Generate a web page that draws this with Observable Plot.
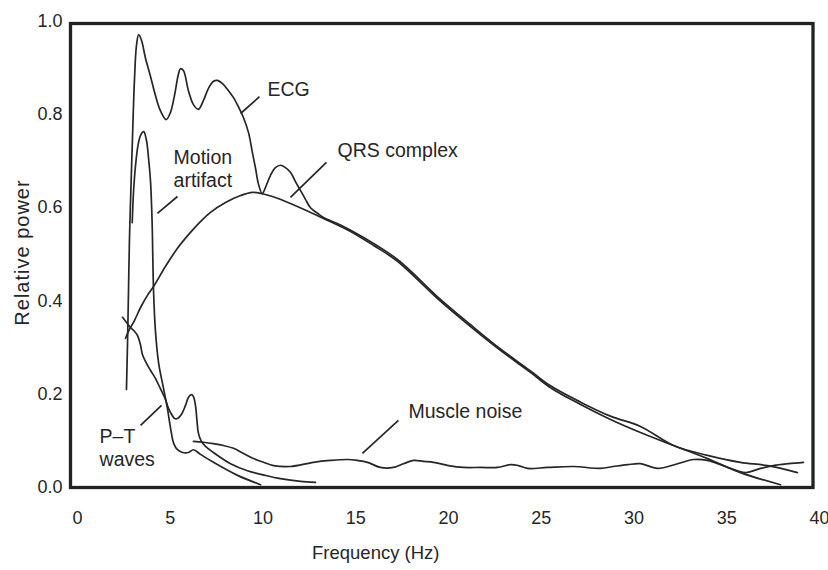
<!DOCTYPE html>
<html><head><meta charset="utf-8">
<script src="https://cdn.jsdelivr.net/npm/d3@7"></script>
<script src="https://cdn.jsdelivr.net/npm/@observablehq/plot@0.6"></script>
<style>body{margin:0;background:#fff;} #chart{width:828px;height:570px;}</style>
</head><body><div id="chart"></div>
<script>
// Tick values
const xTicks = [0, 5, 10, 15, 20, 25, 30, 35, 40];
const yTicks = [0, 0.2, 0.4, 0.6, 0.8, 1.0];

// ECG spectrum
const ecgFreq = [2.64,2.70,2.75,2.80,2.86,2.96,3.07,3.18,3.30,3.45,3.67,3.94,4.20,4.47,4.78,5.01,5.23,5.44,5.55,5.71,5.98,6.25,6.52,6.79,7.06,7.33,7.55,7.82,8.14,8.41,8.68,8.95,9.22,9.43,9.60,9.76,9.96,10.13,10.40,10.67,10.94,11.21,11.48,11.75,12.02,12.29,12.56,12.94,13.26,14.18,15.42,17.25,19.41,21.19,22.80,24.42,25.50,27.12,28.73,30.35,32.13,33.96,35.74,37.20,38.81];
const ecgPower = [0.210,0.315,0.422,0.530,0.615,0.744,0.873,0.948,0.971,0.959,0.920,0.881,0.841,0.808,0.789,0.804,0.841,0.886,0.898,0.894,0.851,0.821,0.811,0.830,0.856,0.871,0.873,0.866,0.851,0.836,0.816,0.793,0.761,0.718,0.684,0.650,0.630,0.643,0.669,0.686,0.691,0.686,0.676,0.656,0.637,0.618,0.600,0.588,0.579,0.563,0.536,0.489,0.409,0.349,0.297,0.250,0.218,0.183,0.153,0.131,0.090,0.069,0.054,0.047,0.032];

// QRS complex spectrum
const qrsFreq = [2.59,2.75,3.07,3.40,3.77,4.10,4.74,5.39,6.09,6.63,7.17,7.98,8.79,9.43,9.97,10.51,11.48,13.26,14.72,15.96,17.25,19.41,21.19,22.80,24.42,25.50,27.12,28.73,30.35,32.13,33.96,35.74,37.90];
const qrsPower = [0.320,0.335,0.358,0.386,0.412,0.431,0.474,0.513,0.547,0.570,0.590,0.611,0.626,0.633,0.630,0.624,0.609,0.577,0.549,0.519,0.485,0.405,0.345,0.294,0.247,0.214,0.178,0.146,0.118,0.090,0.062,0.032,0.006];

// Motion artifact spectrum
const motionFreq = [2.95,3.02,3.13,3.26,3.40,3.57,3.72,3.83,3.94,4.02,4.10,4.20,4.37,4.64,4.85,5.01,5.19,5.39,5.66,5.98,6.25,6.63,7.33,8.63,9.87];
const motionPower = [0.568,0.633,0.691,0.733,0.755,0.763,0.744,0.706,0.654,0.573,0.422,0.337,0.268,0.212,0.169,0.129,0.094,0.081,0.075,0.075,0.081,0.071,0.054,0.026,0.006];

// P-T waves spectrum
const ptFreq = [2.43,2.64,2.86,3.07,3.23,3.40,3.50,3.72,3.94,4.20,4.47,4.74,4.91,5.07,5.23,5.39,5.61,5.82,5.98,6.14,6.25,6.36,6.44,6.52,6.68,6.90,7.33,8.25,9.16,10.13,10.94,12.02,12.83];
const ptPower = [0.365,0.354,0.343,0.335,0.326,0.305,0.285,0.266,0.251,0.234,0.212,0.189,0.169,0.157,0.148,0.148,0.157,0.176,0.193,0.199,0.195,0.176,0.144,0.116,0.099,0.088,0.075,0.051,0.036,0.026,0.019,0.013,0.011];

// Muscle noise spectrum
const muscleFreq = [6.25,6.79,7.33,7.87,8.41,8.95,9.49,10.03,10.57,11.48,12.72,13.64,14.56,15.09,15.63,16.33,17.03,17.57,18.11,18.65,19.19,20.00,20.81,21.73,22.64,23.34,23.77,24.26,25.34,26.74,28.19,28.89,29.65,30.35,31.27,32.35,33.21,33.96,34.93,36.01,36.82,37.52,38.33,39.14];
const musclePower = [0.099,0.097,0.094,0.090,0.084,0.073,0.062,0.054,0.047,0.045,0.054,0.058,0.060,0.058,0.054,0.043,0.043,0.051,0.058,0.056,0.054,0.047,0.043,0.043,0.043,0.049,0.047,0.041,0.043,0.045,0.041,0.045,0.049,0.051,0.041,0.051,0.060,0.058,0.045,0.032,0.041,0.047,0.051,0.054];

// Annotation labels (anchor in data units) and leader lines
const labelText = ["ECG", "Motion\nartifact", "QRS complex", "P\u2013T\nwaves", "Muscle noise"];
const labelFreq = [10.24, 5.18, 14.02, 1.19, 17.84];
const labelPower = [0.856, 0.685, 0.725, 0.086, 0.165];
const leaderF1 = [8.79, 4.31, 11.48, 3.40, 15.36];
const leaderP1 = [0.802, 0.588, 0.622, 0.133, 0.073];
const leaderF2 = [9.81, 5.39, 13.42, 4.53, 17.30];
const leaderP2 = [0.838, 0.624, 0.697, 0.176, 0.144];

const series = [
  ["ECG", ecgFreq, ecgPower],
  ["QRS complex", qrsFreq, qrsPower],
  ["Motion artifact", motionFreq, motionPower],
  ["P-T waves", ptFreq, ptPower],
  ["Muscle noise", muscleFreq, musclePower]
];
const rows = series.flatMap(([name, fs, ps]) => fs.map((f, i) => ({name, f, p: ps[i]})));
const labels = labelText.map((t, i) => ({t, f: labelFreq[i], p: labelPower[i]}));
const leaders = leaderF1.map((f1, i) => ({f1, p1: leaderP1[i], f2: leaderF2[i], p2: leaderP2[i]}));

const ink = "#262626";
const font = "'Liberation Sans', Arial, Helvetica, sans-serif";

const chart = Plot.plot({
  width: 828,
  height: 570,
  marginLeft: 70,
  marginRight: 15.5,
  marginTop: 23,
  marginBottom: 83,
  style: {fontFamily: font, background: "#fff", overflow: "visible"},
  x: {domain: [-0.377, 39.65]},
  y: {domain: [0, 0.995]},
  marks: [
    Plot.axisX({ticks: xTicks, tickSize: 0, tickPadding: 24, fontSize: 18, fill: ink, label: null, tickFormat: d3.format("d")}),
    Plot.axisY({ticks: yTicks, tickSize: 0, tickPadding: 8, fontSize: 18, fill: ink, label: null, tickFormat: d3.format(".1f")}),
    Plot.line(rows, {x: "f", y: "p", z: "name", curve: "catmull-rom", stroke: ink, strokeWidth: 1.7}),
    Plot.link(leaders, {x1: "f1", y1: "p1", x2: "f2", y2: "p2", stroke: ink, strokeWidth: 1.7}),
    Plot.text(labels, {x: "f", y: "p", text: "t", textAnchor: "start", lineAnchor: "middle", lineHeight: 1.18, fontSize: 19.5, fill: ink}),
    Plot.text(["Frequency (Hz)"], {frameAnchor: "bottom", textAnchor: "middle", dx: -66, dy: 66, lineAnchor: "middle", fontSize: 18.5, fill: ink}),
    Plot.text(["Relative power"], {frameAnchor: "left", textAnchor: "middle", dx: -48, dy: -3, rotate: -90, lineAnchor: "middle", fontSize: 20, fill: ink, style: "letter-spacing:1px"}),
    Plot.frame({stroke: "#222", strokeWidth: 3.3})
  ]
});
chart.querySelectorAll("text").forEach(t => { if (t.textContent === "Relative power") t.style.letterSpacing = "1px"; });
document.getElementById("chart").append(chart);
</script>
</body></html>
